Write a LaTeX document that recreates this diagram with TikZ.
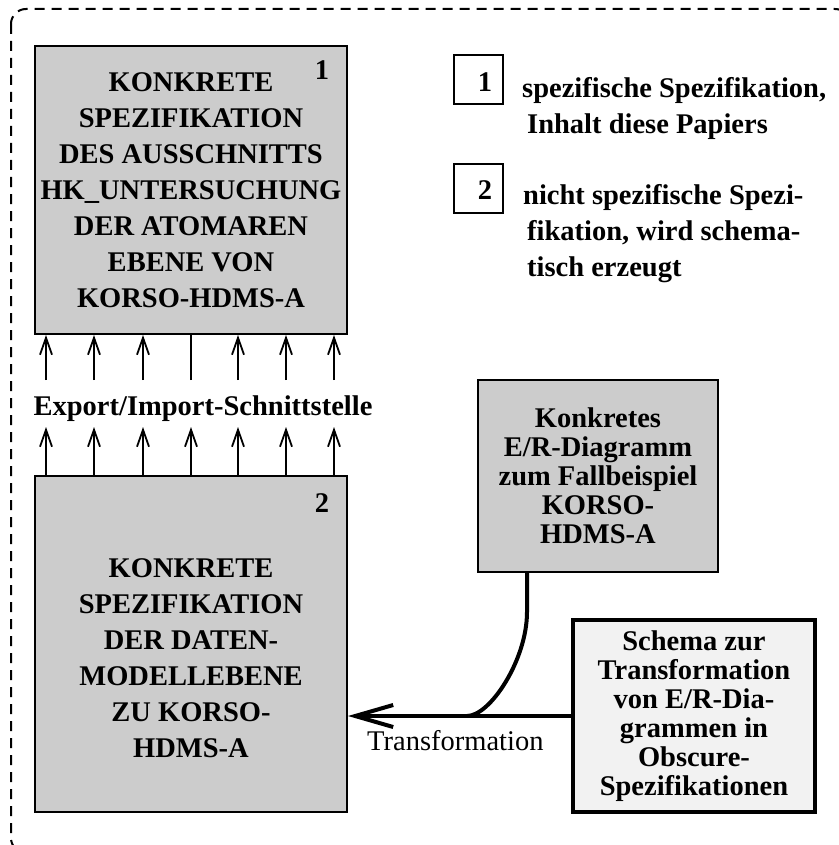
\documentclass[tikz,border=0pt]{standalone}
\usepackage{fontspec}
\setmainfont{Liberation Serif}
\usetikzlibrary{arrows.meta}
\definecolor{boxgray}{gray}{0.8}
\definecolor{palegray}{gray}{0.95}
\begin{document}
\begin{tikzpicture}[x=1pt,y=-1pt,
  bx/.style={draw, line width=2pt, fill=boxgray, inner sep=0pt, align=center, font=\fontsize{28.5}{36}\selectfont\bfseries},
  lbl/.style={inner sep=0pt, align=left, font=\fontsize{28.5}{36}\selectfont\bfseries},
  up/.style={line width=1.8pt, -{Straight Barb[length=17pt,width=12pt]}},
  fat/.style={line width=4pt}]
\useasboundingbox (0,0) rectangle (838,845);
\draw[line width=2pt, dash pattern=on 10pt off 7pt, rounded corners=15pt] (11,9) rectangle (850,853);
\node[bx, minimum width=312pt, minimum height=288pt] (bx0) at (191,190) {KONKRETE\\SPEZIFIKATION\\DES AUSSCHNITTS\\HK\_UNTERSUCHUNG\\DER ATOMAREN\\EBENE VON\\KORSO-HDMS-A};
\node[lbl, anchor=base] (num0) at (322,80) {1};
\node[bx, minimum width=312pt, minimum height=336pt] (bx1) at (191,644) {\rule{0pt}{48pt}KONKRETE\\SPEZIFIKATION\\DER DATEN-\\MODELLEBENE\\ZU KORSO-\\HDMS-A};
\node[lbl, anchor=base] (num1) at (322,512) {2};
\node[bx, minimum width=240pt, minimum height=192pt, font=\fontsize{28.5}{29}\selectfont\bfseries] (bx2) at (598,476) {Konkretes\\E/R-Diagramm\\zum Fallbeispiel\\KORSO-\\HDMS-A};
\node[bx, line width=4pt, fill=palegray, minimum width=242pt, minimum height=192pt, font=\fontsize{28.5}{29}\selectfont\bfseries] (bx3) at (694,716) {Schema zur\\Transformation\\von E/R-Dia-\\grammen in\\Obscure-\\Spezifikationen};
\node[draw, line width=2pt, minimum size=49pt, inner sep=0pt] (key0) at (478.5,79.5) {};
\node[lbl, anchor=base] (knum0) at (485,92) {1};
\node[lbl, anchor=base west] (leg0) at (527,134) {\hspace*{-5pt}spezifische Spezifikation,\\Inhalt diese Papiers};
\node[draw, line width=2pt, minimum size=49pt, inner sep=0pt] (key1) at (478.5,188.5) {};
\node[lbl, anchor=base] (knum1) at (485,200) {2};
\node[lbl, anchor=base west] (leg1) at (527,276) {\hspace*{-4pt}nicht spezifische Spezi-\\fikation, wird schema-\\tisch erzeugt};
\node[lbl, anchor=base] (exp) at (203,415) {Export/Import-Schnittstelle};
\coordinate (a0) at (46,380);
\coordinate (a1) at (94,380);
\coordinate (a2) at (143,380);
\coordinate (a3) at (191,380);
\coordinate (a4) at (238,380);
\coordinate (a5) at (286,380);
\coordinate (a6) at (334,380);
\draw[up] (a0) -- (a0 |- bx0.south);
\draw[up] (a1) -- (a1 |- bx0.south);
\draw[up] (a2) -- (a2 |- bx0.south);
\draw[line width=1.8pt] (a3) -- (a3 |- bx0.south);
\draw[up] (a4) -- (a4 |- bx0.south);
\draw[up] (a5) -- (a5 |- bx0.south);
\draw[up] (a6) -- (a6 |- bx0.south);
\coordinate (b0) at (46,427);
\coordinate (b1) at (94,427);
\coordinate (b2) at (143,427);
\coordinate (b3) at (191,427);
\coordinate (b4) at (238,427);
\coordinate (b5) at (286,427);
\coordinate (b6) at (334,427);
\draw[up] (b0 |- bx1.north) -- (b0);
\draw[up] (b1 |- bx1.north) -- (b1);
\draw[up] (b2 |- bx1.north) -- (b2);
\draw[up] (b3 |- bx1.north) -- (b3);
\draw[up] (b4 |- bx1.north) -- (b4);
\draw[up] (b5 |- bx1.north) -- (b5);
\draw[up] (b6 |- bx1.north) -- (b6);
\draw[fat, -{Straight Barb[length=38pt,width=22pt]}] (bx3.west) -- (bx3.west -| bx1.east);
\coordinate (ft) at (527,572);
\coordinate (jn) at (467,716);
\draw[fat] (ft) -- ++(0,40) .. controls +(0,48) and +(23,0) .. (jn);
\node[inner sep=0pt, anchor=base west, font=\fontsize{28.5}{36}\selectfont] (trf) at (367,750) {Transformation};
\end{tikzpicture}
\end{document}
